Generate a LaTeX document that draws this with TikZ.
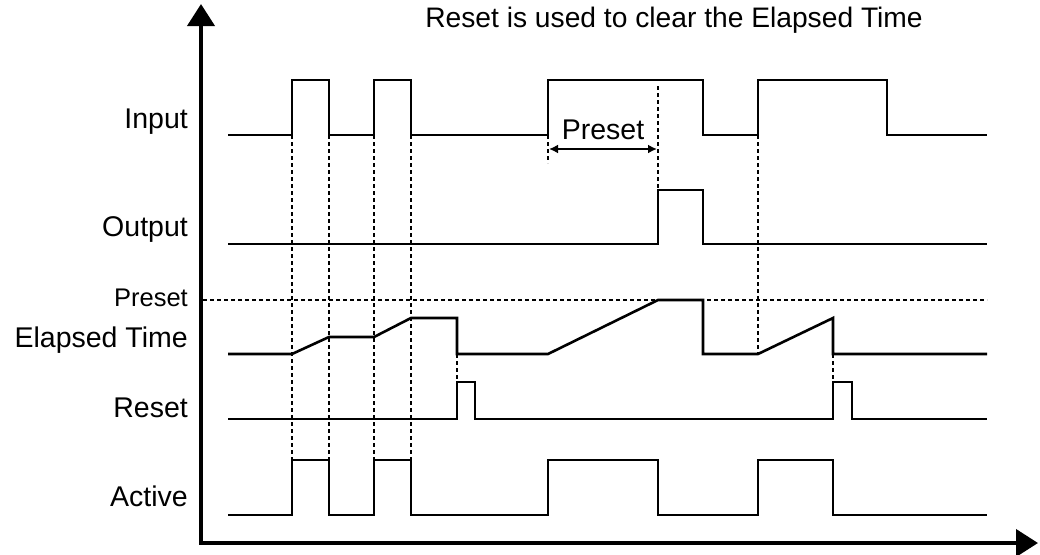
\documentclass[tikz,border=0pt]{standalone}
\usepackage{fontspec}
\setmainfont{Liberation Sans}
\usetikzlibrary{arrows.meta}

\begin{document}
\begin{tikzpicture}[
    x=1pt, y=-1pt,
    signal/.style={line width=2.6pt, line join=miter},
    guide/.style={line width=1.4pt, dash pattern=on 4pt off 3pt},
    axis/.style={line width=4pt, line join=miter, {Triangle[width=27pt,length=22pt]}-{Triangle[width=27pt,length=22pt]}},
    lbl/.style={anchor=east, inner sep=0pt, font=\fontsize{28.5}{30}\selectfont},
    small/.style={anchor=east, inner sep=0pt, font=\fontsize{25.5}{27}\selectfont}
]
  \useasboundingbox (0,0) rectangle (1040,554);

  % Axes
  \coordinate (ytip)   at (201,4);
  \coordinate (origin) at (201,543);
  \coordinate (xtip)   at (1038,543);
  \draw[axis] (ytip) -- (origin) -- (xtip);

  % Title and row labels
  \node[font=\fontsize{28.2}{30}\selectfont, inner sep=0pt] (title) at (674,20) {Reset is used to clear the Elapsed Time};
  \node[lbl]   (input)   at (188,122) {Input};
  \node[lbl]   (output)  at (188,230) {Output};
  \node[small] (preset)  at (188,298) {Preset};
  \node[lbl]   (elapsed) at (188,340) {Elapsed Time};
  \node[lbl]   (reset)   at (188,408) {Reset};
  \node[lbl]   (active)  at (188,496) {Active};

  % Preset level
  \draw[guide] (203,300) -- (987,300);

  % Guide lines between the rows
  \foreach \t in {292,329,374,411}
    \draw[guide] (\t,135) -- (\t,460);
  \draw[guide] (548,135) -- (548,163);
  \draw[guide] (658,86)  -- (658,190);
  \draw[guide] (758,135) -- (758,354);
  \draw[guide] (457,354) -- (457,382);
  \draw[guide] (833,354) -- (833,382);

  % Input
  \draw[signal] (228,135) -| (292,80) -| (329,135) -| (374,80) -| (411,135)
    -| (548,80) -| (703,135) -| (758,80) -| (887,135) -- (987,135);

  % Preset interval
  \coordinate (pa) at (549,149);
  \coordinate (pb) at (657,149);
  \draw[line width=2.6pt, {Latex[length=9pt,width=9pt]}-{Latex[length=9pt,width=9pt]}] (pa) -- (pb);
  \node[font=\fontsize{28.5}{30}\selectfont, inner sep=0pt] (presetlbl) at (603,130) {Preset};

  % Output
  \draw[signal] (228,244) -| (658,190) -| (703,244) -- (987,244);

  % Elapsed Time
  \draw[signal] (228,354) -- (292,354) -- (329,337) -- (374,337) -- (411,318)
    -- (457,318) -- (457,354) -- (548,354) -- (658,300) -- (703,300)
    -- (703,354) -- (758,354) -- (833,318) -- (833,354) -- (987,354);

  % Reset
  \draw[signal] (228,419) -| (457,382) -| (475,419) -| (833,382) -| (852,419) -- (987,419);

  % Active
  \draw[signal] (228,515) -| (292,460) -| (329,515) -| (374,460) -| (411,515)
    -| (548,460) -| (658,515) -| (758,460) -| (833,515) -- (987,515);
\end{tikzpicture}
\end{document}
